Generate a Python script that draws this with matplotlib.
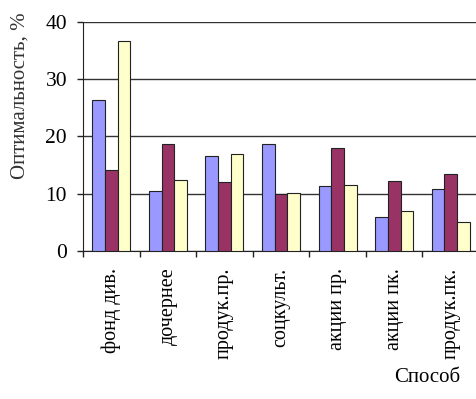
import numpy as np
import matplotlib.pyplot as plt

plt.rcParams['font.family'] = ['Liberation Serif', 'DejaVu Serif']

categories = ['фонд див.', 'дочернее', 'продук.пр.', 'соцкульт.',
              'акции пр.', 'акции пк.', 'продук.пк.']
blue_vals = [26.3, 10.4, 16.5, 18.7, 11.3, 5.9, 10.9]
maroon_vals = [14.1, 18.7, 12.0, 9.9, 17.9, 12.3, 13.5]
yellow_vals = [36.7, 12.4, 16.9, 10.2, 11.6, 7.0, 5.1]

colors = ['#9999FF', '#993366', '#FFFFCC']
series = [blue_vals, maroon_vals, yellow_vals]

fig = plt.figure(figsize=(4.76, 3.99), dpi=100)
ax = fig.add_axes([0.1744, 0.371, 0.832, 0.574])

x = np.arange(len(categories)) + 0.5
w = 0.224
for i, (vals, c) in enumerate(zip(series, colors)):
    ax.bar(x + (i - 1) * w, vals, width=w, color=c, edgecolor='#222222',
           linewidth=0.8, zorder=3)

ax.set_xlim(0, len(categories))
ax.set_ylim(0, 40)
ax.set_yticks([0, 10, 20, 30, 40])
ax.yaxis.grid(True, color='#333333', linewidth=1.0, zorder=0)

ax.set_xticks(np.arange(len(categories) + 1))
ax.set_xticklabels([])
ax.set_xticks(x, minor=True)
ax.set_xticklabels(categories, minor=True, rotation=90, fontsize=14.5)
ax.tick_params(axis='x', which='minor', length=0, pad=12)
ax.tick_params(axis='x', which='major', length=4.5, width=1, color='#222222')
ax.tick_params(axis='y', length=4.5, width=1, color='#222222', labelsize=15.5, pad=7)

for s in ['top', 'right']:
    ax.spines[s].set_visible(False)
ax.spines['left'].set_color('#222222')
ax.spines['bottom'].set_color('#222222')

fig.text(0.042, 0.759, 'Оптимальность, %', fontsize=15, color='#333333',
         rotation=90, ha='center', va='center')
fig.text(0.897, 0.053, 'Способ', fontsize=15, ha='center', va='center')

fig.savefig('out.png', dpi=100)
